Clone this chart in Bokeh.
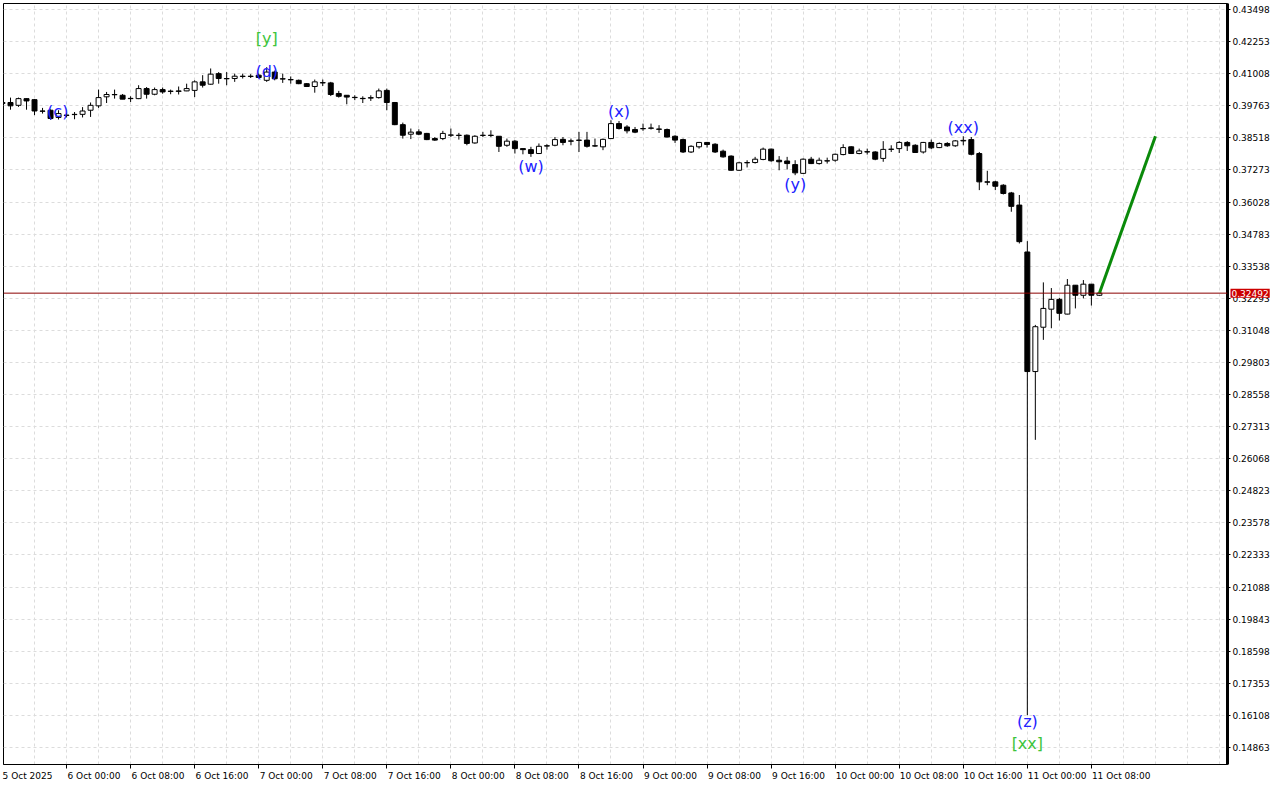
from bokeh.plotting import figure
from bokeh.models import (FixedTicker, ColumnDataSource, Span, NumeralTickFormatter,
                          LinearAxis, Label)
from bokeh.core.properties import value
from bokeh.embed import file_html
from bokeh.resources import INLINE

# hourly bars, index 0 = 5 Oct 2025 16:00
opens = [0.3985, 0.3989, 0.3978, 0.4004, 0.4000, 0.3956, 0.3959, 0.3931, 0.3940, 0.3942,
         0.3943, 0.3959, 0.3976, 0.4011, 0.4020, 0.4017, 0.4004, 0.4004, 0.4043, 0.4021,
         0.4039, 0.4033, 0.4032, 0.4034, 0.4036, 0.4069, 0.4060, 0.4101, 0.4082, 0.4082,
         0.4090, 0.4091, 0.4095, 0.4075, 0.4107, 0.4081, 0.4078, 0.4075, 0.4062, 0.4051,
         0.4066, 0.4065, 0.4024, 0.4017, 0.4009, 0.4005, 0.4006, 0.4008, 0.4036, 0.3989,
         0.3903, 0.3866, 0.3875, 0.3869, 0.3849, 0.3849, 0.3862, 0.3862, 0.3862, 0.3832,
         0.3861, 0.3862, 0.3858, 0.3823, 0.3839, 0.3810, 0.3806, 0.3791, 0.3821, 0.3823,
         0.3846, 0.3840, 0.3842, 0.3843, 0.3821, 0.3817, 0.3849, 0.3907, 0.3894, 0.3884,
         0.3887, 0.3889, 0.3886, 0.3884, 0.3858, 0.3845, 0.3797, 0.3817, 0.3834, 0.3827,
         0.3800, 0.3781, 0.3726, 0.3755, 0.3756, 0.3768, 0.3808, 0.3765, 0.3762, 0.3748,
         0.3714, 0.3769, 0.3752, 0.3762, 0.3765, 0.3787, 0.3817, 0.3791, 0.3798, 0.3797,
         0.3772, 0.3807, 0.3810, 0.3834, 0.3823, 0.3797, 0.3834, 0.3814, 0.3830, 0.3821,
         0.3840, 0.3845, 0.3791, 0.3681, 0.3681, 0.3668, 0.3638, 0.3591, 0.3409, 0.2945,
         0.3117, 0.3187, 0.3225, 0.3168, 0.3280, 0.3241, 0.3284, 0.3241]
highs = [0.3995, 0.4008, 0.4008, 0.4005, 0.4002, 0.3968, 0.3962, 0.3959, 0.3948, 0.3952,
         0.3971, 0.3989, 0.4039, 0.4030, 0.4039, 0.4022, 0.4013, 0.4056, 0.4049, 0.4047,
         0.4047, 0.4039, 0.4051, 0.4062, 0.4075, 0.4095, 0.4121, 0.4107, 0.4107, 0.4101,
         0.4101, 0.4099, 0.4101, 0.4126, 0.4113, 0.4101, 0.4090, 0.4078, 0.4064, 0.4078,
         0.4078, 0.4069, 0.4034, 0.4018, 0.4017, 0.4013, 0.4017, 0.4043, 0.4043, 0.3991,
         0.3911, 0.3888, 0.3885, 0.3871, 0.3855, 0.3879, 0.3888, 0.3871, 0.3865, 0.3862,
         0.3875, 0.3881, 0.3858, 0.3849, 0.3843, 0.3810, 0.3817, 0.3830, 0.3827, 0.3855,
         0.3855, 0.3849, 0.3875, 0.3875, 0.3849, 0.3849, 0.3920, 0.3917, 0.3901, 0.3894,
         0.3907, 0.3907, 0.3901, 0.3888, 0.3862, 0.3849, 0.3823, 0.3836, 0.3836, 0.3831,
         0.3806, 0.3784, 0.3759, 0.3765, 0.3778, 0.3814, 0.3810, 0.3781, 0.3778, 0.3765,
         0.3772, 0.3778, 0.3775, 0.3775, 0.3791, 0.3827, 0.3819, 0.3810, 0.3810, 0.3800,
         0.3839, 0.3823, 0.3839, 0.3839, 0.3827, 0.3836, 0.3845, 0.3834, 0.3835, 0.3843,
         0.3858, 0.3855, 0.3797, 0.3724, 0.3685, 0.3672, 0.3642, 0.3630, 0.3451, 0.3126,
         0.3291, 0.3269, 0.3231, 0.3304, 0.3280, 0.3300, 0.3284, 0.3250]
lows = [0.3975, 0.3961, 0.3972, 0.3961, 0.3940, 0.3946, 0.3922, 0.3923, 0.3931, 0.3924,
        0.3931, 0.3933, 0.3968, 0.3987, 0.4004, 0.4002, 0.3991, 0.4002, 0.4004, 0.4017,
        0.4023, 0.4021, 0.4020, 0.4033, 0.4010, 0.4047, 0.4058, 0.4062, 0.4056, 0.4069,
        0.4082, 0.4084, 0.4082, 0.4069, 0.4075, 0.4065, 0.4062, 0.4060, 0.4049, 0.4027,
        0.4053, 0.4014, 0.4008, 0.3982, 0.3998, 0.3987, 0.3995, 0.4004, 0.3959, 0.3901,
        0.3849, 0.3847, 0.3862, 0.3843, 0.3840, 0.3843, 0.3855, 0.3845, 0.3823, 0.3829,
        0.3855, 0.3855, 0.3797, 0.3817, 0.3791, 0.3788, 0.3778, 0.3789, 0.3806, 0.3819,
        0.3823, 0.3823, 0.3797, 0.3814, 0.3817, 0.3804, 0.3849, 0.3884, 0.3869, 0.3870,
        0.3879, 0.3884, 0.3871, 0.3853, 0.3832, 0.3793, 0.3793, 0.3810, 0.3814, 0.3793,
        0.3775, 0.3724, 0.3724, 0.3737, 0.3752, 0.3765, 0.3759, 0.3726, 0.3729, 0.3707,
        0.3712, 0.3750, 0.3748, 0.3752, 0.3759, 0.3784, 0.3789, 0.3788, 0.3787, 0.3765,
        0.3759, 0.3797, 0.3793, 0.3801, 0.3793, 0.3791, 0.3808, 0.3812, 0.3817, 0.3817,
        0.3823, 0.3784, 0.3649, 0.3668, 0.3649, 0.3632, 0.3565, 0.3442, 0.1612, 0.2680,
        0.3068, 0.3113, 0.3143, 0.3167, 0.3190, 0.3229, 0.3201, 0.3238]
closes = [0.3989, 0.3976, 0.4004, 0.3995, 0.3956, 0.3955, 0.3927, 0.3946, 0.3939, 0.3943,
          0.3956, 0.3978, 0.4008, 0.4020, 0.4019, 0.4002, 0.4005, 0.4043, 0.4021, 0.4039,
          0.4030, 0.4032, 0.4034, 0.4043, 0.4069, 0.4056, 0.4099, 0.4082, 0.4081, 0.4091,
          0.4091, 0.4090, 0.4086, 0.4107, 0.4081, 0.4080, 0.4077, 0.4062, 0.4051, 0.4069,
          0.4065, 0.4020, 0.4013, 0.4010, 0.4008, 0.4004, 0.4008, 0.4034, 0.3989, 0.3903,
          0.3862, 0.3874, 0.3866, 0.3845, 0.3843, 0.3869, 0.3863, 0.3861, 0.3830, 0.3858,
          0.3862, 0.3861, 0.3819, 0.3839, 0.3810, 0.3806, 0.3791, 0.3819, 0.3820, 0.3845,
          0.3834, 0.3839, 0.3843, 0.3819, 0.3820, 0.3846, 0.3907, 0.3888, 0.3879, 0.3874,
          0.3888, 0.3890, 0.3885, 0.3855, 0.3843, 0.3797, 0.3819, 0.3834, 0.3826, 0.3797,
          0.3778, 0.3726, 0.3755, 0.3756, 0.3769, 0.3808, 0.3763, 0.3759, 0.3752, 0.3716,
          0.3769, 0.3752, 0.3765, 0.3763, 0.3788, 0.3814, 0.3791, 0.3801, 0.3797, 0.3769,
          0.3807, 0.3808, 0.3834, 0.3821, 0.3795, 0.3834, 0.3813, 0.3830, 0.3821, 0.3840,
          0.3842, 0.3788, 0.3681, 0.3680, 0.3664, 0.3636, 0.3586, 0.3449, 0.2945, 0.3119,
          0.3190, 0.3225, 0.3171, 0.3280, 0.3241, 0.3284, 0.3241, 0.32492]
hours = list(range(len(opens)))

tick_hours = [0, 8, 16, 24, 32, 40, 48, 56, 64, 72, 80, 88, 96, 104, 112, 120, 128, 136]
tick_labels = ["5 Oct 2025", "6 Oct 00:00", "6 Oct 08:00", "6 Oct 16:00", "7 Oct 00:00",
               "7 Oct 08:00", "7 Oct 16:00", "8 Oct 00:00", "8 Oct 08:00", "8 Oct 16:00",
               "9 Oct 00:00", "9 Oct 08:00", "9 Oct 16:00", "10 Oct 00:00", "10 Oct 08:00",
               "10 Oct 16:00", "11 Oct 00:00", "11 Oct 08:00"]
grid_hours = list(range(0, 156, 4))
price_ticks = [0.43498, 0.42253, 0.41008, 0.39763, 0.38518, 0.37273, 0.36028, 0.34783,
               0.33538, 0.32293, 0.31048, 0.29803, 0.28558, 0.27313, 0.26068, 0.24823,
               0.23578, 0.22333, 0.21088, 0.19843, 0.18598, 0.17353, 0.16108, 0.14863]
last_price = 0.32492

proj_hours = [137, 144]
proj_prices = [0.32492, 0.3858]

wave_text = ["(c)", "[y]", "(d)", "(w)", "(x)", "(y)", "(xx)", "(z)", "[xx]"]
wave_hour = [6.9, 33, 33, 66, 77, 99, 120, 128, 128]
wave_price = [0.3955, 0.4238, 0.4108, 0.3742, 0.3955, 0.3672, 0.3893, 0.1586, 0.1501]
wave_degree = ["minor", "major", "minor", "minor", "minor", "minor", "minor", "minor", "major"]

BLUE = "#2222FF"
GREEN = "#3CC43C"
X0, X1 = 0.125, 153
Y0, Y1 = 0.14203, 0.43731
PX_PER_HOUR = 8.0
LABEL_FONT = "DejaVu Sans"

p = figure(width=1272, height=792, output_backend="svg", toolbar_location=None,
           x_range=(X0, X1), y_range=(Y0, Y1), y_axis_location="right",
           min_border_left=3, min_border_top=3, min_border_right=0, min_border_bottom=0)
p.background_fill_color = "white"
p.border_fill_color = "white"
p.outline_line_color = "black"
p.outline_line_width = 1

# grids
p.xgrid.ticker = FixedTicker(ticks=grid_hours)
p.ygrid.ticker = FixedTicker(ticks=price_ticks)
for g in (p.xgrid, p.ygrid):
    g.grid_line_color = "#DCDCDC"
    g.grid_line_dash = "3 3"
    g.grid_line_width = 1

# x axis: tick marks only
xa = p.xaxis[0]
xa.ticker = FixedTicker(ticks=tick_hours)
xa.major_label_text_color = None
xa.major_label_standoff = 0
xa.major_tick_out = 4
xa.major_tick_in = 0
xa.minor_tick_out = 0
xa.minor_tick_in = 0
xa.axis_line_color = "black"
xa.major_tick_line_color = "black"

# x axis labels, left-aligned to their tick (label centre shifted right of the tick)
label_pos = [h + (len(t) * 4.8 / 2 + 1) / PX_PER_HOUR for h, t in zip(tick_hours, tick_labels)]
xl = LinearAxis(ticker=FixedTicker(ticks=label_pos),
                major_label_overrides={pos: t for pos, t in zip(label_pos, tick_labels)})
xl.axis_line_color = None
xl.major_tick_line_color = None
xl.minor_tick_line_color = None
xl.major_tick_out = 0
xl.major_tick_in = 0
xl.minor_tick_out = 0
xl.minor_tick_in = 0
xl.major_label_standoff = 2
xl.major_label_text_font = LABEL_FONT
xl.major_label_text_font_size = "9px"
xl.major_label_text_color = "black"
p.add_layout(xl, "below")

# y axis
ya = p.yaxis[0]
ya.ticker = FixedTicker(ticks=price_ticks)
ya.formatter = NumeralTickFormatter(format="0.00000")
ya.major_label_text_font = LABEL_FONT
ya.major_label_text_font_size = "9px"
ya.major_label_text_color = "black"
ya.major_label_standoff = 2
ya.major_tick_out = 3
ya.major_tick_in = 0
ya.minor_tick_out = 0
ya.minor_tick_in = 0
ya.axis_line_color = "black"
ya.axis_line_width = 3
ya.major_tick_line_color = "black"

# candles
body_top = [max(o, c) for o, c in zip(opens, closes)]
body_bot = [min(o, c) for o, c in zip(opens, closes)]
fills = ["white" if c >= o else "black" for o, c in zip(opens, closes)]
src = ColumnDataSource(dict(x=hours, o=opens, h=highs, l=lows, c=closes,
                            top=body_top, bot=body_bot, fill=fills))
p.segment(x0="x", y0="l", x1="x", y1="h", source=src, line_color="black", line_width=1)
p.vbar(x="x", top="top", bottom="bot", width=0.62, source=src,
       fill_color="fill", line_color="black", line_width=1)

# current price line
p.add_layout(Span(location=last_price, dimension="width", line_color="#8B0000", line_width=1))

# projection
p.line(proj_hours, proj_prices, line_color="#0A8A0A", line_width=3)

# wave labels
wcol = [GREEN if d == "major" else BLUE for d in wave_degree]
wsrc = ColumnDataSource(dict(x=wave_hour, y=wave_price, t=wave_text, col=wcol))
p.text(x="x", y="y", text="t", source=wsrc, text_color="col",
       text_font=value("DejaVu Sans"), text_font_size="16px",
       text_align="center", text_baseline="middle")

# current price tag over the price axis (held by the bottom panel so it is not clipped)
tag = Label(x=X1, y=last_price, x_units="data", y_units="data", x_offset=3,
            text="%.5f" % last_price, text_color="white", text_font=LABEL_FONT,
            text_font_size="9px", text_baseline="middle", text_align="left",
            background_fill_color="#CC0000", padding=1)
p.add_layout(tag, "below")

open("out.html", "w").write(file_html(p, INLINE))
